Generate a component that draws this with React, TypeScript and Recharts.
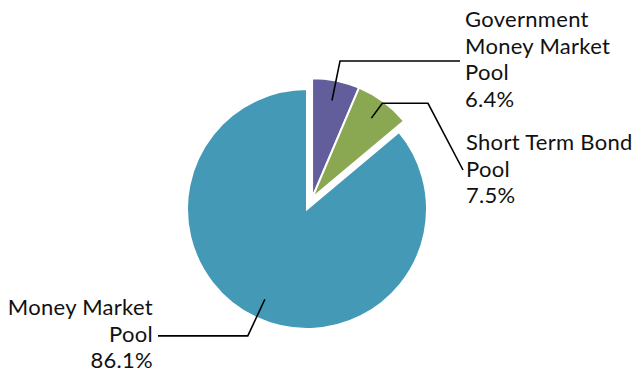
import * as React from "react";
import { PieChart, Pie, Cell } from "recharts";

const categories = [
  "Government Money Market Pool",
  "Short Term Bond Pool",
  "Money Market Pool",
];
const shares = [6.4, 7.5, 86.1];
const colors = ["#625E9B", "#8AA852", "#4399B6"];

// which slices are pulled out of the pie
const exploded = [true, true, false];

// label layout: elbow radius, where the horizontal run ends, text block
const labelLayout = [
  { elbowR: 140, endX: 460, textX: 465, textY: 27, anchor: "start", tail: null },
  { elbowR: 118, endX: 428, textX: 466, textY: 150, anchor: "start", tail: [463, 170] },
  { elbowR: 140, endX: 158, textX: 153, textY: 315, anchor: "end", tail: null },
];

const W = 639;
const H = 372;
const CX = 307;
const CY = 209;
const R = 120;
const EXPLODE = 12;
const FONT = "Lato, 'Open Sans', sans-serif";
const RAD = Math.PI / 180;

const data = categories.map((name, i) => ({ name, value: shares[i] }));

function wrap(text: string, max: number) {
  const words = text.split(" ");
  const lines: string[] = [];
  let cur = "";
  for (const w of words) {
    const next = cur ? cur + " " + w : w;
    if (next.length > max && cur) {
      lines.push(cur);
      cur = w;
    } else cur = next;
  }
  if (cur) lines.push(cur);
  return lines;
}

// offset of the exploded group, along the middle of its combined angle
const total = shares.reduce((a, b) => a + b, 0);
const groupShare = shares.filter((_, i) => exploded[i]).reduce((a, b) => a + b, 0);
const groupMid = 90 - ((groupShare / total) * 360) / 2;
const OX = EXPLODE * Math.cos(groupMid * RAD);
const OY = -EXPLODE * Math.sin(groupMid * RAD);

function pt(cx: number, cy: number, r: number, angle: number) {
  return [cx + r * Math.cos(-angle * RAD), cy + r * Math.sin(-angle * RAD)];
}

function makeLabel(showExploded: boolean) {
  return (props: any) => {
    const { cx, cy, midAngle, index, value, name } = props;
    if (exploded[index] !== showExploded) return null;
    const L = labelLayout[index];
    const [x0, y0] = pt(cx, cy, R * 0.83, midAngle);
    const [x1, y1] = pt(cx, cy, L.elbowR, midAngle);
    const pts = [[x0, y0], [x1, y1], [L.endX, y1]];
    if (L.tail) pts.push(L.tail);
    const lines = [...wrap(name, 15), value.toFixed(1) + "%"];
    return (
      <g key={"lbl" + index}>
        <polyline
          points={pts.map((p) => p.join(",")).join(" ")}
          fill="none"
          stroke="#000"
          strokeWidth={1.6}
        />
        <text
          x={L.textX}
          y={L.textY}
          textAnchor={L.anchor}
          fontFamily={FONT}
          fontSize={22}
          letterSpacing={0.3}
          fill="#111"
        >
          {lines.map((t, i) => (
            <tspan key={i} x={L.textX} dy={i === 0 ? 0 : 26.7}>
              {t}
            </tspan>
          ))}
        </text>
      </g>
    );
  };
}

export default function App() {
  return (
    <div style={{ position: "absolute", left: 0, top: 0, width: W, height: H, background: "#fff" }}>
      <PieChart width={W} height={H} margin={{ top: 0, right: 0, bottom: 0, left: 0 }}>
        <Pie
          data={data}
          dataKey="value"
          nameKey="name"
          cx={CX}
          cy={CY}
          outerRadius={R}
          startAngle={90}
          endAngle={-270}
          stroke="#fff"
          strokeWidth={2}
          label={makeLabel(false)}
          labelLine={false}
          isAnimationActive={false}
        >
          {data.map((d, i) => (
            <Cell
              key={d.name}
              fill={exploded[i] ? "none" : colors[i]}
              stroke={exploded[i] ? "none" : "#fff"}
            />
          ))}
        </Pie>
        <Pie
          data={data}
          dataKey="value"
          nameKey="name"
          cx={CX + OX}
          cy={CY + OY}
          outerRadius={R}
          startAngle={90}
          endAngle={-270}
          stroke="#fff"
          strokeWidth={2}
          label={makeLabel(true)}
          labelLine={false}
          isAnimationActive={false}
        >
          {data.map((d, i) => (
            <Cell
              key={d.name}
              fill={exploded[i] ? colors[i] : "none"}
              stroke={exploded[i] ? "#fff" : "none"}
            />
          ))}
        </Pie>
      </PieChart>
    </div>
  );
}
